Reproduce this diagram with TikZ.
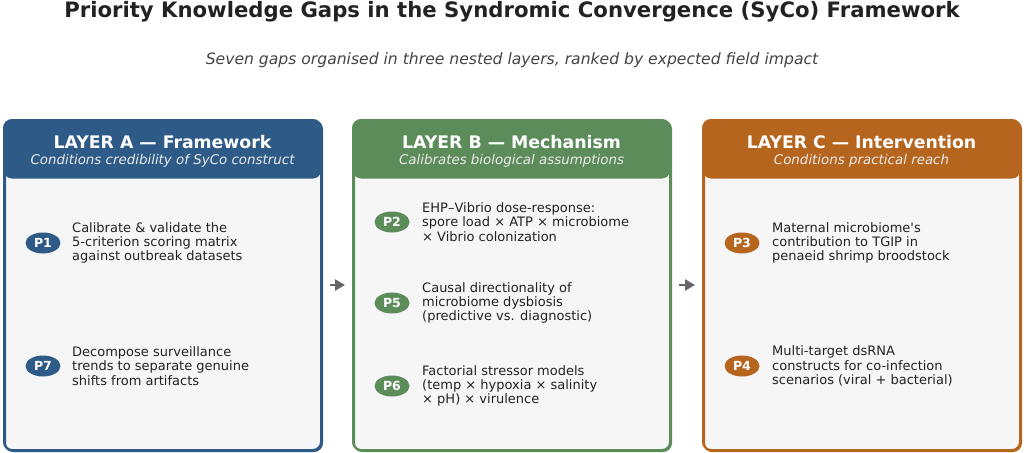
\documentclass[tikz,border=0pt]{standalone}
\usepackage{fontspec}
\setmainfont{DejaVu Sans}
\usetikzlibrary{arrows.meta,positioning,shapes.geometric}
\definecolor{cA}{HTML}{2E5A87}
\definecolor{cB}{HTML}{5B8C5A}
\definecolor{cC}{HTML}{B5651D}
\definecolor{bodyfill}{HTML}{F6F6F6}
\definecolor{txt}{HTML}{222222}
\definecolor{subtxt}{HTML}{444444}
\definecolor{arr}{HTML}{666666}
\tikzset{
  x=1pt,y=-1pt,
  layerbox/.style={draw=#1,line width=2pt,fill=bodyfill,rounded corners=8pt,minimum width=317pt,minimum height=330pt,anchor=north west,inner sep=0pt},
  headtitle/.style={text=white,font=\bfseries\fontsize{17.3}{20}\selectfont},
  headsub/.style={text=white!92!black,font=\itshape\fontsize{13.4}{15}\selectfont},
  pill/.style={fill=#1,ellipse,text=white,font=\bfseries\fontsize{12.5}{14}\selectfont,minimum width=35pt,minimum height=21pt,inner sep=0pt},
  item/.style={anchor=west,align=left,text=txt,font=\fontsize{13}{14.3}\selectfont,inner sep=0pt},
  flow/.style={draw=arr,line width=2.4pt,-{Triangle[length=10pt,width=11pt]}}
}
\begin{document}
\begin{tikzpicture}
\useasboundingbox (0,0) rectangle (1024,452);
\fill[white] (0,0) rectangle (1024,452);
\node[font=\bfseries\fontsize{21.2}{24}\selectfont,text=txt] (title) at (512,12) {Priority Knowledge Gaps in the Syndromic Convergence (SyCo) Framework};
\node[font=\itshape\fontsize{15.6}{18}\selectfont,text=subtxt] (subtitle) at (512,60) {Seven gaps organised in three nested layers, ranked by expected field impact};

% boxes
\foreach \n/\x/\c in {A/4/cA,B/353/cB,C/703/cC}{
  \node[layerbox=\c] (box\n) at (\x,120) {};
  \begin{scope}
    \clip[rounded corners=8pt] (\x,120) rectangle ++(317,330);
    \fill[\c] (\x,120) rectangle ++(317,50);
  \end{scope}
  \fill[\c,rounded corners=8pt] (\x,162) rectangle ++(317,16.5);
  \draw[\c,line width=2pt,rounded corners=8pt] (\x,120) rectangle ++(317,330);
}
\node[headtitle] (tA) at (162.5,142) {LAYER A — Framework};
\node[headsub] (sA) at (162.5,161) {Conditions credibility of SyCo construct};
\node[headtitle] (tB) at (511.5,142) {LAYER B — Mechanism};
\node[headsub] (sB) at (511.5,161) {Calibrates biological assumptions};
\node[headtitle] (tC) at (861.5,142) {LAYER C — Intervention};
\node[headsub] (sC) at (861.5,161) {Conditions practical reach};

% Layer A items
\node[pill=cA] (p1) at (43,243) {P1};
\node[item] (i1) at (72,243) {Calibrate \& validate the\\5-criterion scoring matrix\\against outbreak datasets};
\node[pill=cA] (p7) at (43,366) {P7};
\node[item] (i7) at (72,366) {Decompose surveillance\\trends to separate genuine\\shifts from artifacts};

% Layer B items
\node[pill=cB] (p2) at (392,222) {P2};
\node[item] (i2) at (422,222) {EHP–Vibrio dose-response:\\spore load × ATP × microbiome\\× Vibrio colonization};
\node[pill=cB] (p5) at (392,303) {P5};
\node[item] (i5) at (422,303) {Causal directionality of\\microbiome dysbiosis\\(predictive vs. diagnostic)};
\node[pill=cB] (p6) at (392,386) {P6};
\node[item] (i6) at (422,386) {Factorial stressor models\\(temp × hypoxia × salinity\\× pH) × virulence};

% Layer C items
\node[pill=cC] (p3) at (742,243) {P3};
\node[item] (i3) at (772,243) {Maternal microbiome\textquotesingle s\\contribution to TGIP in\\penaeid shrimp broodstock};
\node[pill=cC] (p4) at (742,366) {P4};
\node[item] (i4) at (772,366) {Multi-target dsRNA\\constructs for co-infection\\scenarios (viral + bacterial)};

% arrows
\draw[flow,shorten <=7pt,shorten >=8pt] (boxA.east |- 0,285) -- (boxB.west |- 0,285);
\draw[flow,shorten <=7pt,shorten >=8pt] (boxB.east |- 0,285) -- (boxC.west |- 0,285);
\end{tikzpicture}
\end{document}
